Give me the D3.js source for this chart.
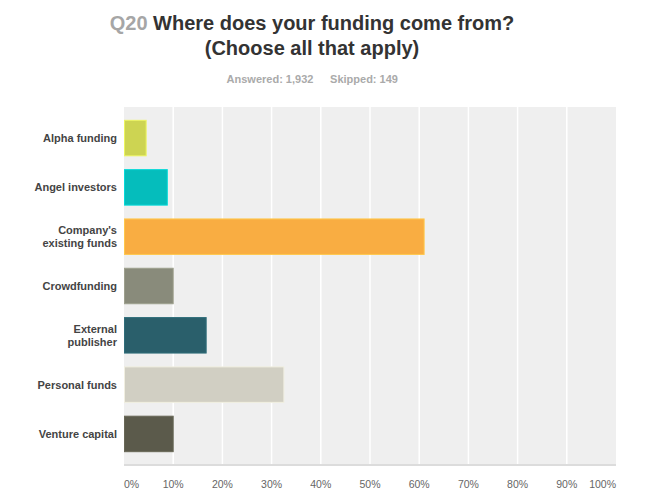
<!DOCTYPE html>
<html>
<head>
<meta charset="utf-8">
<script src="https://cdn.jsdelivr.net/npm/d3@7"></script>
<style>
  body { margin: 0; background: #fff; overflow: hidden; }
  svg { display: block; }
</style>
</head>
<body>
<div id="chart"></div>
<script>
const categories = ["Alpha funding", "Angel investors", "Company's\nexisting funds", "Crowdfunding", "External\npublisher", "Personal funds", "Venture capital"];
const values = [4.5, 8.8, 61.0, 10.0, 16.7, 32.5, 10.0];
const barColors = ["#cdd452", "#05bdbc", "#f9ad42", "#898b7b", "#2a5f6b", "#d1cfc3", "#5b5a4b"];
const ticks = [0, 10, 20, 30, 40, 50, 60, 70, 80, 90, 100];

const font = "'Liberation Sans', Arial, Helvetica, sans-serif";

const width = 646,
  height = 497,
  margin = { top: 107, right: 30, bottom: 31, left: 124 },
  innerWidth = width - margin.left - margin.right,
  innerHeight = height - margin.top - margin.bottom;

const data = categories.map((c, i) => ({ name: c, value: values[i], color: barColors[i] }));

const svg = d3.select("#chart")
  .append("svg")
  .attr("width", width)
  .attr("height", height)
  .attr("font-family", font);

// title
const title = svg.append("g").attr("text-anchor", "middle").attr("font-weight", "bold");
const t1 = title.append("text")
  .attr("x", 312)
  .attr("y", 30)
  .attr("font-size", 20);
t1.append("tspan").attr("fill", "#a6a6a6").text("Q20 ");
t1.append("tspan").attr("fill", "#333").text("Where does your funding come from?");
title.append("text")
  .attr("x", 312)
  .attr("y", 55)
  .attr("fill", "#333")
  .attr("font-size", 20)
  .text("(Choose all that apply)");
title.append("text")
  .attr("x", 270)
  .attr("y", 83)
  .attr("fill", "#aaa")
  .attr("font-size", 11)
  .text("Answered: 1,932");
title.append("text")
  .attr("x", 364)
  .attr("y", 83)
  .attr("fill", "#aaa")
  .attr("font-size", 11)
  .text("Skipped: 149");

const g = svg.append("g")
  .attr("transform", `translate(${margin.left},${margin.top})`);

const xScale = d3.scaleLinear()
  .domain([0, 100])
  .range([0, innerWidth]);

const yScale = d3.scaleBand()
  .domain(categories)
  .range([0, innerHeight - 1])
  .padding(0.26);

// plot background
g.append("rect")
  .attr("width", innerWidth)
  .attr("height", innerHeight)
  .attr("fill", "#efefef");

// grid lines
g.append("g")
  .selectAll("line")
  .data(ticks.slice(1, -1))
  .join("line")
  .attr("x1", d => xScale(d))
  .attr("x2", d => xScale(d))
  .attr("y1", 0)
  .attr("y2", innerHeight)
  .attr("stroke", "#fff")
  .attr("stroke-width", 1.5);

// bottom axis line
g.append("line")
  .attr("x1", 0)
  .attr("x2", innerWidth)
  .attr("y1", innerHeight - 1)
  .attr("y2", innerHeight - 1)
  .attr("stroke", "#dcdcdc")
  .attr("stroke-width", 2);

// bars
g.append("g")
  .selectAll("rect")
  .data(data)
  .join("rect")
  .attr("x", 0.5)
  .attr("y", d => yScale(d.name) + 0.5)
  .attr("width", d => xScale(d.value) - 0.5)
  .attr("height", yScale.bandwidth() - 1)
  .attr("fill", d => d.color)
  .attr("stroke", d => d3.color(d.color).brighter(0.4))
  .attr("stroke-width", 1);

// x tick labels
g.append("g")
  .selectAll("text")
  .data(ticks)
  .join("text")
  .attr("x", d => xScale(d))
  .attr("y", innerHeight + 22)
  .attr("fill", "#666")
  .attr("font-size", 10.5)
  .attr("text-anchor", d => d === 0 ? "start" : d === 100 ? "end" : "middle")
  .text(d => d + "%");

// category labels
g.append("g")
  .selectAll("text")
  .data(categories)
  .join("text")
  .attr("fill", "#444")
  .attr("font-size", 11)
  .attr("font-weight", "bold")
  .attr("text-anchor", "end")
  .each(function (d) {
    const lines = d.split("\n");
    const cy = yScale(d) + yScale.bandwidth() / 2;
    d3.select(this).selectAll("tspan")
      .data(lines)
      .join("tspan")
      .attr("x", -7)
      .attr("y", (l, i) => cy + (i - (lines.length - 1) / 2) * 13.5 + 4)
      .text(l => l);
  });
</script>
</body>
</html>
